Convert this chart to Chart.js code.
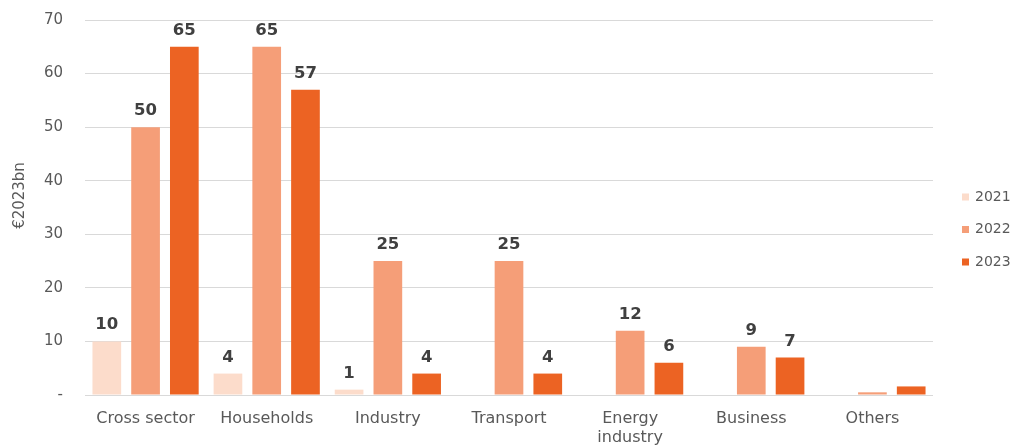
<!DOCTYPE html>
<html>
<head>
<meta charset="utf-8">
<script src="https://cdn.jsdelivr.net/npm/chart.js@4"></script>
<style>
  html, body { margin: 0; padding: 0; background: #ffffff; }
  #wrap { width: 1020px; height: 447px; position: relative; }
</style>
</head>
<body>
<div id="wrap"><canvas id="chart"></canvas></div>
<script>
// Investment by sector, €2023bn
const categories = ['Cross sector', 'Households', 'Industry', 'Transport', ['Energy', 'industry'], 'Business', 'Others'];
const years = ['2021', '2022', '2023'];
const values2021 = [10, 4, 1, 0, 0, 0, 0];
const values2022 = [50, 65, 25, 25, 12, 9, 0.5];
const values2023 = [65, 57, 4, 4, 6, 7, 1.6];
const yTicks = [0, 10, 20, 30, 40, 50, 60, 70];
const yTitle = '€2023bn';
// categories whose bars carry no value label
const unlabelled = ['Others'];

const colors = ['#FCDCCB', '#F59E78', '#EC6323'];
const FONT = '"DejaVu Sans", Verdana, sans-serif';
const TEXT = '#595959';

// value labels above each bar
const valueLabels = {
  id: 'valueLabels',
  afterDatasetsDraw(chart) {
    const ctx = chart.ctx;
    ctx.save();
    ctx.font = 'bold 16.5px ' + FONT;
    ctx.fillStyle = '#404040';
    ctx.textAlign = 'center';
    ctx.textBaseline = 'alphabetic';
    chart.data.datasets.forEach((ds, di) => {
      chart.getDatasetMeta(di).data.forEach((bar, i) => {
        const v = ds.data[i];
        if (!v || unlabelled.includes(categories[i])) return;
        ctx.fillText(String(Math.round(v)), bar.x, bar.y - 12);
      });
    });
    ctx.restore();
  }
};

// axis title and legend drawn beside the plot
const sideText = {
  id: 'sideText',
  afterDraw(chart) {
    const ctx = chart.ctx;
    const area = chart.chartArea;
    ctx.save();
    // vertical axis title
    ctx.font = '15px ' + FONT;
    ctx.fillStyle = TEXT;
    ctx.textAlign = 'center';
    ctx.textBaseline = 'middle';
    ctx.translate(20, (area.top + area.bottom) / 2 - 12);
    ctx.rotate(-Math.PI / 2);
    ctx.fillText(yTitle, 0, 0);
    ctx.restore();

    // legend
    ctx.save();
    ctx.font = '14px ' + FONT;
    ctx.textBaseline = 'middle';
    ctx.textAlign = 'left';
    const x = area.right + 29;
    const gap = 32.5;
    const y0 = (area.top + area.bottom) / 2 + 22 - gap;
    chart.data.datasets.forEach((ds, i) => {
      const y = y0 + i * gap;
      ctx.fillStyle = ds.backgroundColor;
      ctx.fillRect(x, y - 3.5, 7, 7);
      ctx.fillStyle = TEXT;
      ctx.fillText(ds.label, x + 13, y);
    });
    ctx.restore();
  }
};

new Chart(document.getElementById('chart'), {
  type: 'bar',
  data: {
    labels: categories,
    datasets: [
      { label: years[0], data: values2021, backgroundColor: colors[0] },
      { label: years[1], data: values2022, backgroundColor: colors[1] },
      { label: years[2], data: values2023, backgroundColor: colors[2] }
    ]
  },
  options: {
    responsive: true,
    maintainAspectRatio: false,
    animation: false,
    layout: { padding: { top: 20, right: 87, left: 0, bottom: 0 } },
    datasets: { bar: { categoryPercentage: 0.96, barPercentage: 0.74 } },
    plugins: {
      legend: { display: false },
      tooltip: { enabled: false }
    },
    scales: {
      x: {
        grid: { display: false },
        border: { display: false },
        ticks: { color: TEXT, font: { family: FONT, size: 16, lineHeight: 1.15 }, padding: 7, maxRotation: 0, autoSkip: false },
        afterFit(scale) { scale.height = 52; }
      },
      y: {
        min: 0,
        max: 70,
        afterBuildTicks(scale) { scale.ticks = yTicks.map(v => ({ value: v })); },
        grid: { color: '#D9D9D9', drawTicks: false, lineWidth: 1 },
        border: { display: false },
        ticks: {
          color: TEXT,
          font: { family: FONT, size: 15 },
          padding: 22,
          callback: v => (v === 0 ? '-' : String(v))
        },
        afterFit(scale) {
          scale.width = 85;
          scale.paddingTop = 0;
          scale.paddingBottom = 0;
        }
      }
    }
  },
  plugins: [valueLabels, sideText]
});
</script>
</body>
</html>
